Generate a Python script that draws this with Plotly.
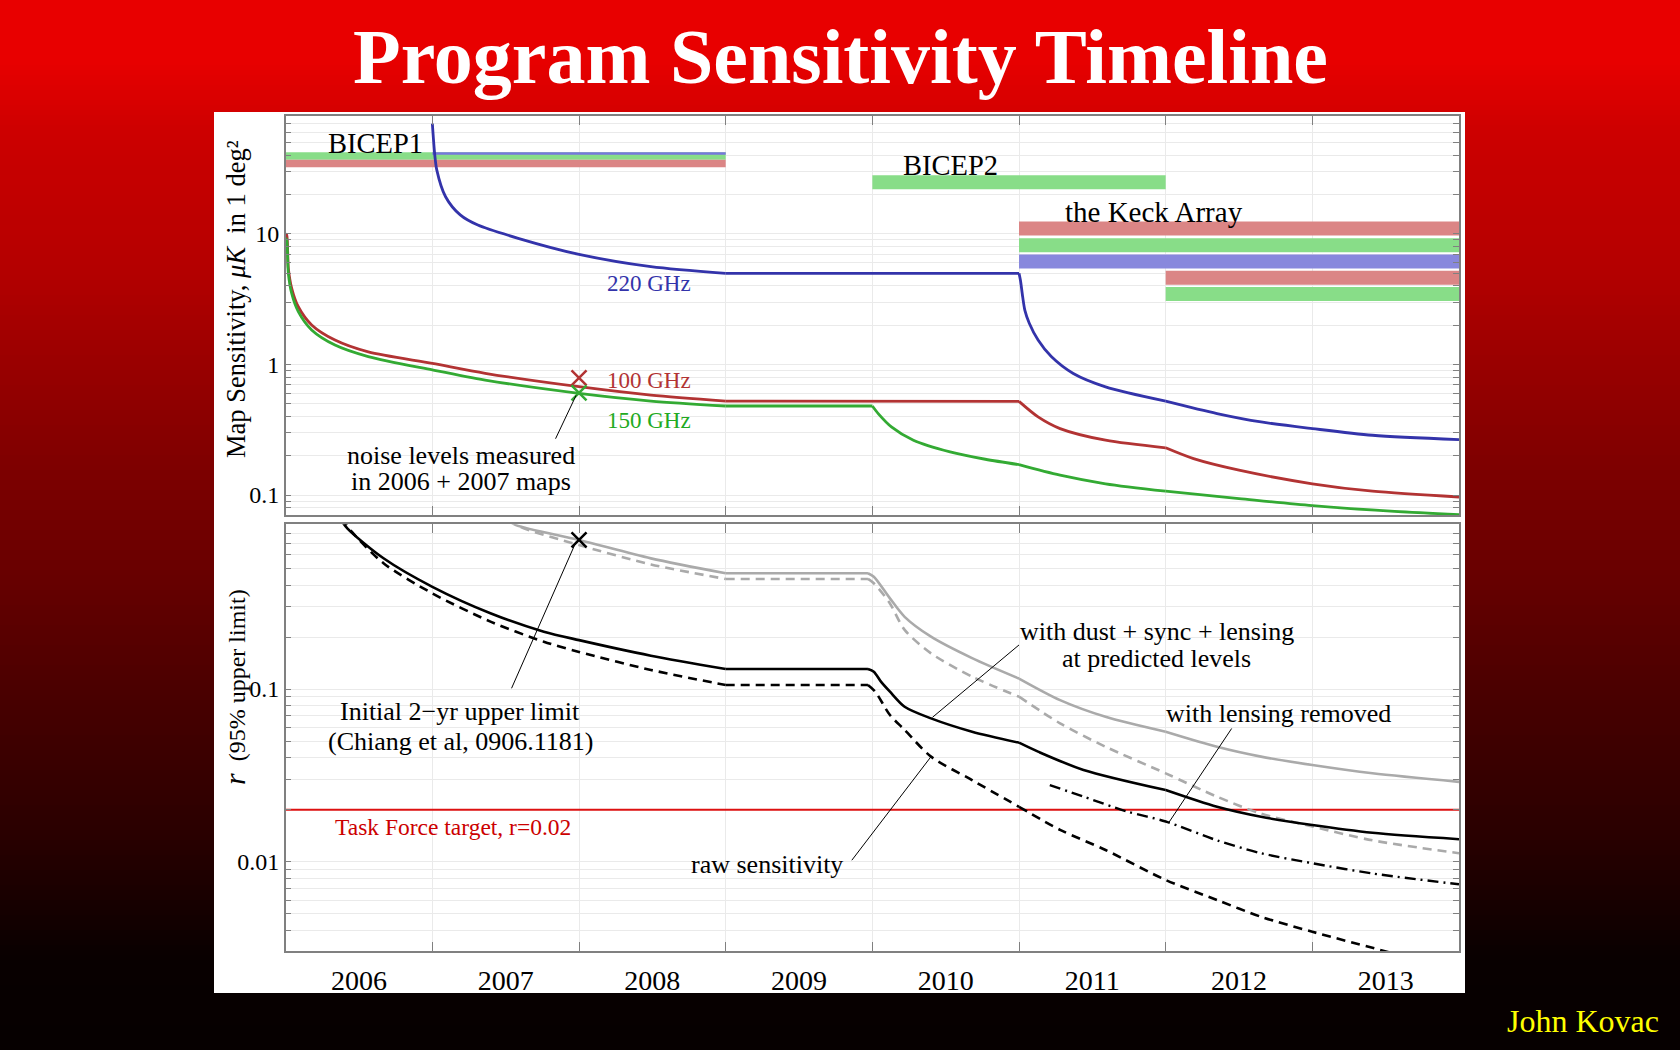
import math
import plotly.graph_objects as go

# ---------------- data ----------------
years = [2006, 2007, 2008, 2009, 2010, 2011, 2012, 2013]

# Top panel: map sensitivity (uK in 1 deg^2)
yr_220 = [2007.0, 2007.015, 2007.03, 2007.09, 2007.19, 2007.31, 2007.585, 2008.0, 2008.49, 2009.0,
          2011.0, 2011.01, 2011.025, 2011.04, 2011.07, 2011.13, 2011.22, 2011.37, 2011.59, 2012.0,
          2012.35, 2012.65, 2013.0, 2013.41, 2014.0]
s_220 = [70, 42, 31, 19.3, 14.0, 11.7, 9.27, 6.98, 5.62, 5.0,
         5.0, 4.4, 3.3, 2.6, 2.07, 1.54, 1.15, 0.853, 0.674, 0.524,
         0.421, 0.363, 0.323, 0.287, 0.266]

yr_100 = [2006.0, 2006.007, 2006.018, 2006.041, 2006.086, 2006.177, 2006.336, 2006.563, 2007.0, 2007.36,
          2008.0, 2008.49, 2009.0, 2011.0, 2011.13, 2011.28, 2011.59, 2012.0, 2012.19, 2012.5,
          2013.0, 2013.41, 2014.0]
s_100 = [10.0, 9.8, 5.46, 3.84, 2.77, 2.01, 1.54, 1.25, 1.02, 0.857,
         0.676, 0.583, 0.525, 0.522, 0.397, 0.323, 0.263, 0.23, 0.19, 0.155,
         0.122, 0.107, 0.0966]

yr_150 = [2006.0, 2006.007, 2006.018, 2006.041, 2006.086, 2006.177, 2006.336, 2006.563, 2007.0, 2007.36,
          2008.0, 2008.49, 2009.0, 2010.0, 2010.04, 2010.13, 2010.28, 2010.53, 2010.77, 2011.0,
          2011.28, 2011.59, 2012.0, 2012.5, 2013.0, 2013.56, 2014.0]
s_150 = [9.3, 9.0, 5.0, 3.5, 2.54, 1.84, 1.41, 1.15, 0.908, 0.76,
         0.601, 0.525, 0.481, 0.481, 0.421, 0.333, 0.263, 0.214, 0.188, 0.171,
         0.142, 0.122, 0.107, 0.094, 0.083, 0.075, 0.0708]

# measured noise levels (2006+2007 maps)
meas_year = [2008.0, 2008.0]
meas_val = [0.79, 0.607]

# Receiver bands (timeline bars)
band_start = [2006.0, 2006.0, 2007.0, 2010.0, 2011.0, 2011.0, 2011.0, 2012.0, 2012.0]
band_end = [2009.0, 2009.0, 2009.0, 2012.0, 2014.0, 2014.0, 2014.0, 2014.0, 2014.0]
band_level = [39.6, 34.7, 41.3, 24.9, 11.0, 8.2, 6.15, 4.62, 3.47]
band_kind = ["green", "red", "blue_thin", "green", "red", "green", "blue", "red", "green"]

# Bottom panel: r (95% upper limit)
yr_dsl = [2006.36, 2006.42, 2006.667, 2007.0, 2007.40, 2007.76, 2008.0, 2008.49, 2009.0, 2009.97, 2010.01,
          2010.06, 2010.12, 2010.22, 2010.4, 2010.68, 2011.0, 2011.13, 2011.44, 2012.0, 2012.35, 2012.65,
          2013.0, 2013.41, 2014.0]
r_dsl = [1.0, 0.853, 0.572, 0.391, 0.274, 0.215, 0.192, 0.156, 0.1306, 0.1306, 0.126,
         0.11, 0.0965, 0.079, 0.0676, 0.0566, 0.0489, 0.0434, 0.034, 0.026, 0.0208, 0.0182,
         0.0163, 0.0147, 0.0135]

yr_raw = [2006.38, 2006.45, 2006.667, 2007.0, 2007.40, 2007.76, 2008.0, 2008.49, 2009.0, 2009.97, 2010.02,
          2010.12, 2010.22, 2010.4, 2010.68, 2011.0, 2011.28, 2011.59, 2012.0, 2012.35, 2012.65, 2013.0,
          2013.55]
r_raw = [0.98, 0.815, 0.535, 0.358, 0.245, 0.188, 0.164, 0.129, 0.1055, 0.1055, 0.0965,
         0.0707, 0.058, 0.0406, 0.0297, 0.0208, 0.0153, 0.0117, 0.00784, 0.006, 0.0048, 0.00393,
         0.00295]

yr_gray = [2007.50, 2007.57, 2008.0, 2008.49, 2009.0, 2009.97, 2010.01, 2010.12, 2010.22, 2010.4, 2010.68,
           2011.0, 2011.28, 2011.59, 2012.0, 2012.35, 2012.65, 2013.0, 2013.41, 2014.0]
r_gray = [0.97, 0.89, 0.73, 0.571, 0.468, 0.468, 0.447, 0.335, 0.262, 0.201, 0.151,
          0.115, 0.0863, 0.0691, 0.0566, 0.0463, 0.0406, 0.0363, 0.0325, 0.029]

yr_grayd = [2007.52, 2007.60, 2008.0, 2008.49, 2009.0, 2009.97, 2010.01, 2010.12, 2010.22, 2010.4, 2010.68,
            2011.0, 2011.28, 2011.59, 2012.0, 2012.35, 2012.65, 2013.0, 2013.41, 2014.0]
r_grayd = [0.97, 0.87, 0.682, 0.527, 0.434, 0.434, 0.41, 0.313, 0.22, 0.161, 0.118,
           0.0903, 0.0633, 0.0463, 0.0325, 0.0238, 0.019, 0.016, 0.0133, 0.0112]

yr_lr = [2011.21, 2011.44, 2011.74, 2012.0, 2012.35, 2012.65, 2013.0, 2013.41, 2014.0]
r_lr = [0.0278, 0.0238, 0.0195, 0.0171, 0.0133, 0.0112, 0.0098, 0.00855, 0.0074]

r_target = 0.02
limit_year = [2008.0]
limit_r = [0.73]

# ---------------- styles ----------------
SERIF = "Liberation Serif"
C_BLUE, C_RED, C_GREEN = "#3333AA", "#B23333", "#33AA33"
BAND_COL = {"green": "#88DD88", "red": "#DB8585", "blue": "#8888DD", "blue_thin": "#7777DD"}
W, H = 1680, 1050


def px_x(p):
    return p / W


def px_y(p):
    return 1 - p / H


def split(xs, ys, breaks):
    """Split a series at the given x positions (season boundaries) so that each
    smooth piece can be drawn as a spline without overshooting at the kinks."""
    segs, cx, cy = [], [xs[0]], [ys[0]]
    for x, y in zip(xs[1:], ys[1:]):
        cx.append(x)
        cy.append(y)
        if x in breaks:
            segs.append((cx, cy))
            cx, cy = [x], [y]
    if len(cx) > 1:
        segs.append((cx, cy))
    return segs


fig = go.Figure()

# bands
for x0, x1, lev, kind in zip(band_start, band_end, band_level, band_kind):
    if kind == "blue_thin":
        w = 2.5
    elif x0 < 2010:
        w = 7.5
    else:
        w = 14
    fig.add_trace(go.Scatter(x=[x0, x1], y=[lev, lev], mode="lines",
                             line=dict(color=BAND_COL[kind], width=w),
                             xaxis="x", yaxis="y", hoverinfo="skip"))


def curve(xs, ys, breaks, axis, **line):
    for sx, sy in split(xs, ys, breaks):
        fig.add_trace(go.Scatter(x=sx, y=sy, mode="lines",
                                 line=dict(shape="spline", smoothing=0.8, **line),
                                 xaxis="x" if axis == 1 else "x2", yaxis="y" if axis == 1 else "y2"))


# sensitivity curves
curve(yr_220, s_220, [2009.0, 2011.0, 2012.0], 1, color=C_BLUE, width=2.8)
curve(yr_100, s_100, [2009.0, 2011.0, 2012.0], 1, color=C_RED, width=2.8)
curve(yr_150, s_150, [2009.0, 2010.0, 2011.0, 2012.0], 1, color=C_GREEN, width=2.8)

fig.add_trace(go.Scatter(x=meas_year, y=meas_val, mode="markers",
                         marker=dict(symbol="x-thin", size=15, color=[C_RED, C_GREEN],
                                     line=dict(width=2.5, color=[C_RED, C_GREEN])),
                         xaxis="x", yaxis="y"))

# pointer line (top)
fig.add_trace(go.Scatter(x=[2007.84, 2007.98], y=[0.27, 0.58], mode="lines",
                         line=dict(color="black", width=1), xaxis="x", yaxis="y"))

# bottom curves
fig.add_trace(go.Scatter(x=[2006, 2014], y=[r_target, r_target], mode="lines",
                         line=dict(color="#DD1111", width=1.8), xaxis="x2", yaxis="y2"))
curve(yr_gray, r_gray, [2009.0, 2009.97, 2011.0, 2012.0], 2, color="#AAAAAA", width=2.6)
curve(yr_grayd, r_grayd, [2009.0, 2009.97, 2011.0], 2, color="#AAAAAA", width=2.6, dash="9px,6px")
curve(yr_dsl, r_dsl, [2009.0, 2009.97, 2011.0, 2012.0], 2, color="black", width=2.6)
curve(yr_raw, r_raw, [2009.0, 2009.97, 2011.0], 2, color="black", width=2.6, dash="9px,6px")
curve(yr_lr, r_lr, [], 2, color="black", width=2.4, dash="11px,5px,2px,5px")

fig.add_trace(go.Scatter(x=limit_year, y=limit_r, mode="markers",
                         marker=dict(symbol="x-thin", size=15, color="black", line=dict(width=2.5, color="black")),
                         xaxis="x2", yaxis="y2"))

# pointer lines (bottom)
pointers = [
    ([2007.54, 2007.98], [0.101, 0.713]),
    ([2009.86, 2010.40], [0.0102, 0.0406]),
    ([2011.00, 2010.41], [0.18, 0.0686]),
    ([2012.45, 2012.02], [0.0591, 0.0168]),
]
for xs, ys in pointers:
    fig.add_trace(go.Scatter(x=xs, y=ys, mode="lines", line=dict(color="black", width=1),
                             xaxis="x2", yaxis="y2"))

# ---------------- axes ----------------
def log_ticks(lo, hi):
    vals, txt = [], []
    for e in range(-4, 3):
        for k in range(1, 10):
            v = k * 10 ** e
            if lo <= v <= hi:
                vals.append(v)
                txt.append(("%g" % v) if k == 1 else " ")
    return vals, txt


top_vals, top_txt = log_ticks(0.069, 80)
bot_vals, bot_txt = log_ticks(0.003, 0.9)

grid = "#EAEAEA"
frame = "#808080"
tick_font = dict(family=SERIF, size=24, color="black")
xdom = [px_x(285.7), px_x(1459)]

common_x = dict(domain=xdom, range=[2006, 2014], showline=True, linecolor=frame, linewidth=1.5,
                mirror="ticks", zeroline=False, automargin=False)
common_y = dict(type="log", showline=True, linecolor=frame, linewidth=1.5, mirror="ticks",
                ticks="inside", ticklen=6, tickcolor=frame, showgrid=True, gridcolor=grid,
                zeroline=False, automargin=False, tickfont=tick_font)

fig.update_layout(
    xaxis=dict(**common_x, anchor="y", tickvals=list(range(2006, 2015)), ticks="inside", ticklen=9,
               tickcolor=frame, showticklabels=False, showgrid=True, gridcolor=grid),
    yaxis=dict(**common_y, domain=[px_y(515), px_y(116)], range=[-1.153, 1.904],
               tickvals=top_vals, ticktext=top_txt, anchor="x"),
    xaxis2=dict(**common_x, anchor="y2", matches="x",
                tickvals=[y + 0.5 for y in years], ticktext=[str(y) for y in years], ticks="",
                showgrid=False, tickfont=dict(family=SERIF, size=28, color="black"), ticklabelstandoff=4,
                minor=dict(tickvals=list(range(2006, 2015)), ticks="inside", ticklen=9, tickcolor=frame,
                           showgrid=True, gridcolor=grid)),
    yaxis2=dict(**common_y, domain=[px_y(951), px_y(524.3)], range=[-2.517, -0.046],
                tickvals=bot_vals, ticktext=bot_txt, anchor="x2"),
)

# ---------------- background ----------------
stops = [(0, 232), (60, 232), (130, 205), (270, 180), (340, 160), (470, 125), (570, 105),
         (700, 72), (840, 40), (960, 8), (1050, 6)]


def red_at(yp):
    for (a, ra), (b, rb) in zip(stops[:-1], stops[1:]):
        if a <= yp <= b:
            return ra + (rb - ra) * (yp - a) / (b - a)
    return stops[-1][1]


shapes = []
step = 5
for yp in range(0, H, step):
    r = int(round(red_at(yp + step / 2)))
    shapes.append(dict(type="rect", xref="paper", yref="paper", x0=0, x1=1,
                       y0=px_y(yp + step), y1=px_y(yp), fillcolor="rgb(%d,0,0)" % r,
                       line=dict(width=0), layer="below"))
shapes.append(dict(type="rect", xref="paper", yref="paper", x0=px_x(214), x1=px_x(1465),
                   y0=px_y(993), y1=px_y(112), fillcolor="white", line=dict(width=0), layer="below"))

# ---------------- text ----------------
L = math.log10
ann = []


def txt(text, x, yv, axis, color="black", size=26, spacing=27):
    lines = text.split("<br>")
    n = len(lines)
    for i, ln in enumerate(lines):
        shift = ((n - 1) / 2 - i) * spacing
        ann.append(dict(text=ln, x=x, y=L(yv), xref="x" if axis == 1 else "x2",
                        yref="y" if axis == 1 else "y2", showarrow=False, yshift=shift,
                        xanchor="center", yanchor="middle",
                        font=dict(family=SERIF, size=size, color=color)))


txt("BICEP1", 2006.61, 10 ** 1.692, 1, size=28.5)
txt("BICEP2", 2010.53, 10 ** 1.524, 1, size=28.5)
txt("the Keck Array", 2011.92, 10 ** 1.17, 1, size=29)
txt("220 GHz", 2008.48, 10 ** 0.621, 1, color=C_BLUE, size=23)
txt("100 GHz", 2008.48, 10 ** -0.12, 1, color=C_RED, size=23)
txt("150 GHz", 2008.48, 10 ** -0.43, 1, color="#22AA22", size=23)
txt("noise levels measured<br>in 2006 + 2007 maps", 2007.196, 10 ** -0.798, 1, spacing=25.5)
txt("Initial 2\u2212yr upper limit<br>(Chiang et al, 0906.1181)", 2007.19, 10 ** -1.218, 2, spacing=30)
txt("Task Force target, r=0.02", 2007.14, 10 ** -1.797, 2, color="#CC0000", size=23.5)
txt("raw sensitivity", 2009.28, 10 ** -2.017, 2)
txt("with dust + sync + lensing<br>at predicted levels", 2011.94, 10 ** -0.745, 2, spacing=27)
txt("with lensing removed", 2012.77, 10 ** -1.141, 2)


def paper_text(text, xp, yp, size, color, angle=0, bold=False):
    f = dict(family=SERIF, size=size, color=color)
    if bold:
        f["weight"] = "bold"
    ann.append(dict(text=text, x=px_x(xp), y=px_y(yp), xref="paper", yref="paper", showarrow=False,
                    xanchor="center", yanchor="middle", textangle=angle, font=f))


paper_text("Program Sensitivity Timeline", 840, 56, 78, "white", bold=True)
paper_text("John Kovac", 1583, 1021, 32, "#FFFF00")
paper_text("Map Sensitivity, <i>\u03bcK</i>  in 1 deg\u00b2", 236, 299, 26.5, "black", angle=-90)
paper_text("<i><span style='font-size:30px'>r</span></i>  (95% upper limit)", 234, 687, 24, "black", angle=-90)

fig.update_layout(width=W, height=H, margin=dict(l=0, r=0, t=0, b=0), autosize=False,
                  paper_bgcolor="#050000", plot_bgcolor="rgba(0,0,0,0)", showlegend=False,
                  shapes=shapes, annotations=ann, font=dict(family=SERIF))

fig.write_html("out.html", config={"displayModeBar": False},
               post_script="document.body.style.margin='0px';document.body.style.overflow='hidden';")
